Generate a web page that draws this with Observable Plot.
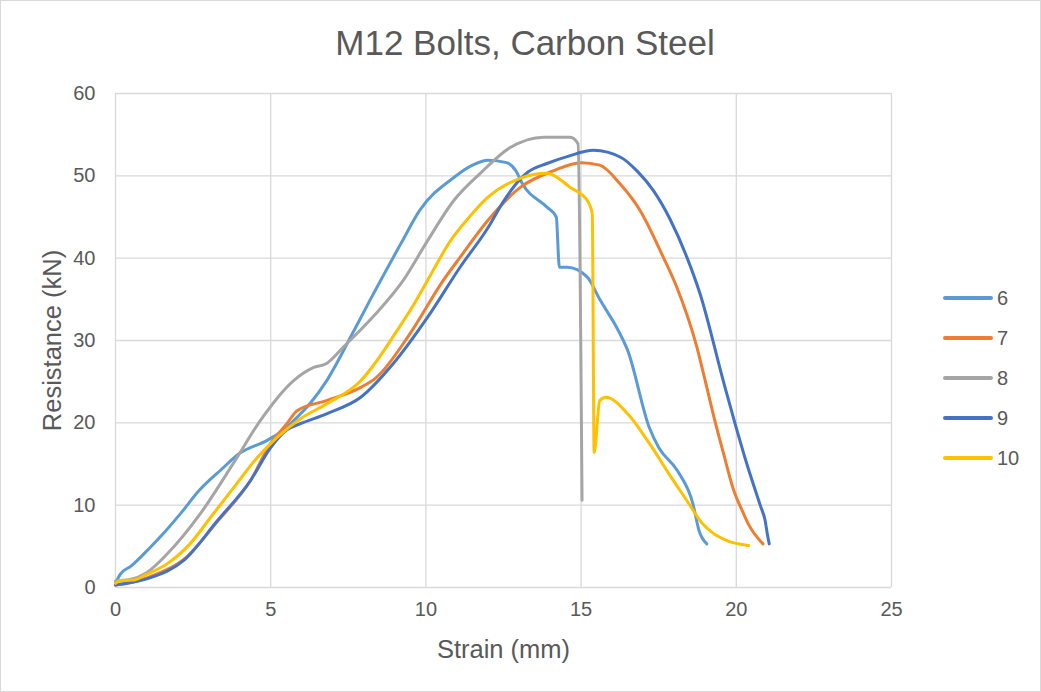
<!DOCTYPE html>
<html>
<head>
<meta charset="utf-8">
<script src="https://cdn.jsdelivr.net/npm/d3@7"></script>
<script src="https://cdn.jsdelivr.net/npm/@observablehq/plot@0.6"></script>
<style>
  html, body { margin: 0; padding: 0; background: #fff; }
  #wrap { position: relative; width: 1041px; height: 692px; font-family: "Liberation Sans", Arial, sans-serif; color: #595959; background: #fff; }
  #border { position: absolute; left: 0; top: 0; width: 1039px; height: 690px; border: 1px solid #d9d9d9; pointer-events: none; }
  #title { height: 70px; line-height: 86px; text-align: center; font-size: 35px; color: #595959; padding-left: 9px; white-space: nowrap; }
  #legend { position: absolute; left: 943px; top: 278px; font-size: 20px; }
  .item { display: flex; align-items: center; height: 40px; }
  .sw { width: 50px; height: 4px; border-radius: 2px; margin-right: 4px; }
</style>
</head>
<body>
<div id="wrap">
  <div id="title">M12 Bolts, Carbon Steel</div>
  <div id="chart"></div>
  <div id="legend"></div>
  <div id="border"></div>
</div>
<script>
const seriesNames = ["6", "7", "8", "9", "10"];
const seriesColors = ["#5B9BD5", "#ED7D31", "#A5A5A5", "#4472C4", "#FFC000"];

const strain6 = [0, 0.15, 0.5, 1.1, 1.6, 2.1, 2.7, 3.4, 4.0, 4.9, 5.5, 5.75, 6.3, 6.8, 7.6, 8.2, 9.2, 9.8, 10.9, 11.5, 12.0, 12.6, 12.9, 13.1, 13.9, 14.2, 14.3, 14.55, 15.2, 15.6, 16.2, 16.5, 17.2, 17.5, 18.1, 18.6, 18.8, 19.05];
const res6 = [0.5, 1.6, 2.6, 4.8, 6.8, 9.0, 11.8, 14.3, 16.3, 17.9, 19.4, 20.3, 22.5, 25.1, 30.6, 34.9, 41.8, 45.8, 49.8, 51.3, 51.9, 51.6, 50.6, 49.1, 46.2, 45.0, 38.9, 38.9, 37.7, 35.0, 31.2, 28.8, 19.4, 17.0, 14.2, 10.2, 6.9, 5.3];

const strain7 = [0, 0.5, 1.1, 2.2, 3.3, 4.35, 5.0, 5.5, 5.86, 6.8, 7.9, 8.4, 9.5, 10.56, 11.1, 12.0, 13.04, 14.1, 15.0, 15.6, 16.26, 16.9, 17.65, 18.08, 18.73, 19.0, 19.26, 19.58, 19.9, 20.23, 20.39, 20.86];
const res7 = [0.3, 0.6, 1.3, 3.4, 8.1, 13.0, 17.5, 19.8, 21.5, 22.7, 24.3, 25.5, 30.9, 37.3, 40.1, 44.6, 48.6, 50.6, 51.6, 51.3, 49.0, 45.8, 40.1, 36.5, 29.2, 25.1, 21.0, 16.4, 12.0, 9.0, 7.7, 5.3];

const strain8 = [0, 0.5, 1.0, 1.67, 2.74, 3.8, 4.67, 5.73, 6.37, 6.8, 7.34, 8.4, 9.27, 10.05, 10.9, 11.75, 12.7, 13.8, 14.65, 14.9, 15.03];
const res8 = [0.8, 1.0, 1.8, 4.1, 9.0, 15.1, 20.3, 25.1, 26.7, 27.2, 29.2, 33.3, 37.3, 42.1, 47.0, 50.3, 53.4, 54.7, 54.7, 53.9, 10.6];

const strain9 = [0, 0.5, 1.13, 2.2, 3.28, 4.35, 5.0, 5.5, 5.96, 6.8, 7.9, 8.95, 10.05, 11.1, 12.0, 12.5, 13.04, 13.3, 13.9, 14.6, 15.4, 16.3, 16.8, 17.33, 17.87, 18.41, 18.83, 19.58, 19.96, 20.34, 20.77, 20.93, 21.0, 21.06];
const res9 = [0.3, 0.6, 1.2, 3.3, 8.1, 13.0, 17.0, 19.1, 19.9, 21.1, 23.1, 27.2, 32.8, 38.9, 43.7, 46.9, 49.6, 50.5, 51.5, 52.4, 53.1, 52.2, 50.6, 48.2, 44.7, 40.1, 35.7, 25.1, 19.9, 15.0, 10.0, 8.1, 6.5, 5.3];

const strain10 = [0, 0.16, 0.58, 1.0, 1.67, 2.4, 3.06, 3.8, 4.57, 5.2, 5.96, 6.8, 7.9, 8.43, 9.0, 9.55, 10.2, 10.79, 11.4, 12.0, 13.04, 13.9, 14.65, 15.2, 15.36, 15.42, 15.6, 15.8, 16.5, 17.2, 17.9, 18.4, 18.9, 19.25, 19.7, 20.4];
const res10 = [0.5, 0.85, 0.9, 1.6, 2.9, 5.3, 8.5, 12.1, 15.8, 18.2, 20.5, 22.3, 25.1, 27.6, 30.8, 34.0, 38.3, 42.1, 45.0, 47.4, 49.7, 50.3, 48.6, 47.0, 45.4, 16.4, 22.7, 23.1, 21.1, 17.5, 13.4, 10.6, 7.8, 6.6, 5.7, 5.1];

const xTicks = [0, 5, 10, 15, 20, 25];
const yTicks = [0, 10, 20, 30, 40, 50, 60];

const strains = [strain6, strain7, strain8, strain9, strain10];
const resists = [res6, res7, res8, res9, res10];
const data = [];
seriesNames.forEach((name, i) => {
  strains[i].forEach((x, j) => data.push({ series: name, strain: x, resistance: resists[i][j] }));
});

const font = "Liberation Sans, Arial, sans-serif";
const chart = Plot.plot({
  width: 1041,
  height: 622,
  marginLeft: 115,
  marginRight: 150,
  marginTop: 23,
  marginBottom: 105,
  style: { fontFamily: font, fontSize: "20px", color: "#595959", background: "transparent", overflow: "visible" },
  x: { domain: [0, 25], ticks: xTicks },
  y: { domain: [0, 60], ticks: yTicks },
  color: { domain: seriesNames, range: seriesColors },
  marks: [
    Plot.gridX(xTicks, { stroke: "#d9d9d9", strokeOpacity: 1, strokeWidth: 1.3 }),
    Plot.gridY(yTicks, { stroke: "#d9d9d9", strokeOpacity: 1, strokeWidth: 1.3 }),
    Plot.axisX({ ticks: xTicks, tickSize: 0, tickPadding: 14, fontSize: 20, label: "Strain (mm)", labelAnchor: "center", labelArrow: "none", labelOffset: 70 }),
    Plot.axisY({ ticks: yTicks, tickSize: 0, tickPadding: 20, fontSize: 20, label: "Resistance (kN)", labelAnchor: "center", labelArrow: "none", labelOffset: 73 }),
    Plot.line(data, { x: "strain", y: "resistance", z: "series", stroke: "series", strokeWidth: 3, curve: "monotone-x", strokeLinejoin: "round", strokeLinecap: "round" })
  ]
});
chart.querySelectorAll("g[aria-label$='axis label'] text").forEach(t => t.setAttribute("font-size", "25.5px"));
document.getElementById("chart").appendChild(chart);

const legend = document.getElementById("legend");
seriesNames.forEach((name, i) => {
  const item = document.createElement("div");
  item.className = "item";
  const sw = document.createElement("div");
  sw.className = "sw";
  sw.style.background = seriesColors[i];
  const lab = document.createElement("span");
  lab.textContent = name;
  item.appendChild(sw);
  item.appendChild(lab);
  legend.appendChild(item);
});
</script>
</body>
</html>
